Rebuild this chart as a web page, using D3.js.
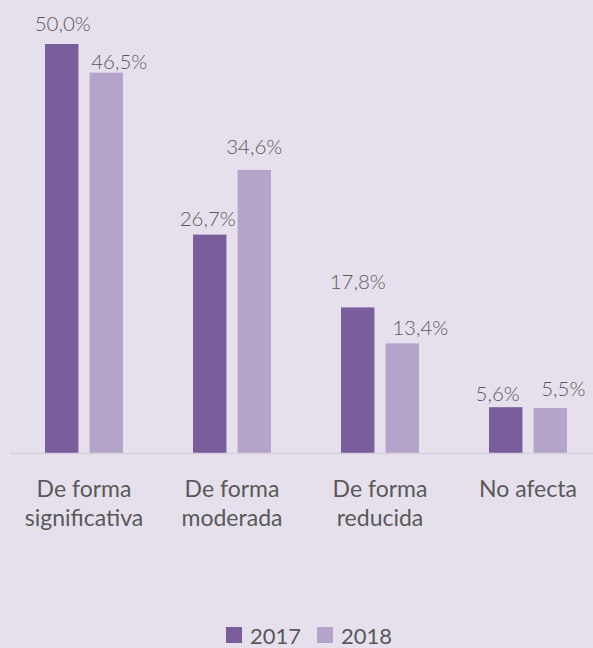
<!DOCTYPE html>
<html>
<head>
<meta charset="utf-8">
<script src="https://cdn.jsdelivr.net/npm/d3@7"></script>
<style>
  body { margin: 0; background: #E6E0ED; }
  svg { display: block; font-family: Lato, "Noto Sans", sans-serif; }
  .catLabel { fill: #595959; font-size: 23px; text-anchor: middle; }
  .valLabel { fill: #5a5a5a; font-size: 20.5px; font-weight: 300; text-anchor: middle; }
  .legendText { fill: #595959; font-size: 22px; }
</style>
</head>
<body>
<svg width="593" height="648"></svg>
<script>
// categories (two lines each) and the two series
const categories = [
  ["De forma", "significativa"],
  ["De forma", "moderada"],
  ["De forma", "reducida"],
  ["No afecta"]
]
const years = ["2017", "2018"]
const values2017 = [50.0, 26.7, 17.8, 5.6]
const values2018 = [46.5, 34.6, 13.4, 5.5]

const colours = { "2017": "#7A5E9B", "2018": "#B5A4CA" }

// small label nudges [dx, dy], same order as the bars (2017, 2018 per category)
const labelNudge = [[1, -2], [13, 7], [-2, 2], [0, -5], [0, -7], [18, 3], [-8, 5], [13, -1]]

const svg = d3.select("svg")
const width = 593

// plot area
const plotLeft = 10, plotRight = 602
const baseline = 453
const plotTop = 44

const x = d3.scaleBand()
    .domain(d3.range(categories.length))
    .range([plotLeft, plotRight])
    .padding(0)

const x1 = d3.scaleBand()
    .domain(years)
    .range([35, 113])
    .paddingInner(0.25)

const y = d3.scaleLinear()
    .domain([0, 50])
    .range([baseline, plotTop])

let data = []
categories.forEach((c, i) => {
    data.push({ cat: i, year: "2017", value: values2017[i] })
    data.push({ cat: i, year: "2018", value: values2018[i] })
})

// bars
svg.append("g").selectAll("rect")
    .data(data).enter()
    .append("rect")
    .attr("x", d => x(d.cat) + x1(d.year))
    .attr("y", d => y(d.value))
    .attr("width", x1.bandwidth())
    .attr("height", d => baseline - y(d.value))
    .style("fill", d => colours[d.year])

// baseline
svg.append("line")
    .attr("x1", plotLeft).attr("x2", width)
    .attr("y1", baseline + 0.5).attr("y2", baseline + 0.5)
    .style("stroke", "#D6D0DC")
    .style("stroke-width", 1.5)

// value labels
svg.append("g").selectAll("text")
    .data(data).enter()
    .append("text")
    .classed("valLabel", true)
    .attr("x", (d, i) => x(d.cat) + x1(d.year) + x1.bandwidth() / 2 + labelNudge[i][0])
    .attr("y", (d, i) => y(d.value) - 11 + labelNudge[i][1])
    .text(d => d3.format(".1f")(d.value).replace(".", ",") + "%")

// category labels
const catG = svg.append("g").selectAll("text")
    .data(categories).enter()
    .append("text")
    .classed("catLabel", true)
    .attr("x", (d, i) => x(i) + x.bandwidth() / 2)
    .attr("y", 497)
catG.selectAll("tspan")
    .data(d => d).enter()
    .append("tspan")
    .attr("x", function () { return d3.select(this.parentNode).attr("x") })
    .attr("dy", (d, i) => i == 0 ? 0 : 29)
    .text(d => d)

// legend
const legend = svg.append("g")
const legendX = [226, 317]
legend.selectAll("rect")
    .data(years).enter()
    .append("rect")
    .attr("x", (d, i) => legendX[i])
    .attr("y", 627)
    .attr("width", 16)
    .attr("height", 16)
    .style("fill", d => colours[d])
legend.selectAll("text")
    .data(years).enter()
    .append("text")
    .classed("legendText", true)
    .attr("x", (d, i) => legendX[i] + 24)
    .attr("y", 644)
    .text(d => d)
</script>
</body>
</html>
